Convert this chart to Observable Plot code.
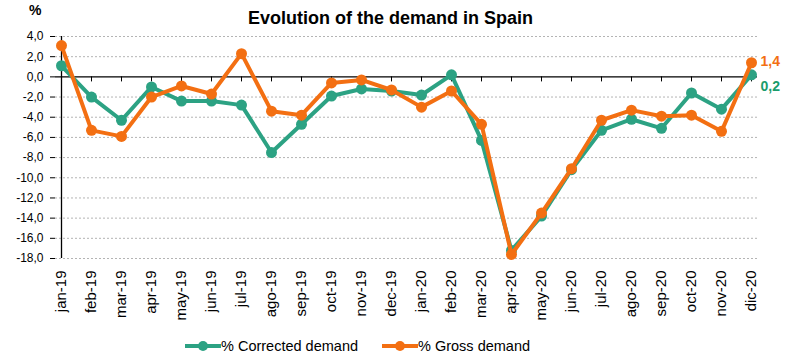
<!DOCTYPE html>
<html>
<head>
<meta charset="utf-8">
<script src="https://cdn.jsdelivr.net/npm/d3@7"></script>
<script src="https://cdn.jsdelivr.net/npm/@observablehq/plot@0.6"></script>
<style>
  html, body { margin: 0; padding: 0; background: #fff; }
  body { font-family: "Liberation Sans", Arial, sans-serif; }
  #wrap { position: relative; width: 791px; height: 360px; overflow: hidden; }
  #chart { position: absolute; left: 0; top: 0; }
  #title { position: absolute; left: 0; width: 781px; top: 8px; text-align: center; font-weight: bold; font-size: 18px; color: #000; }
  #unit { position: absolute; left: 29px; top: 2px; font-weight: bold; font-size: 14px; color: #000; }
  #legend { position: absolute; top: 338px; left: 185px; font-size: 14.5px; color: #000; display: flex; align-items: center; white-space: nowrap; }
  .item { display: flex; align-items: center; }
  .item svg { display: block; }
</style>
</head>
<body>
<div id="wrap">
  <div id="chart"></div>
  <div id="title">Evolution of the demand in Spain</div>
  <div id="unit">%</div>
  <div id="legend"></div>
</div>
<script>
const months = ["jan-19","feb-19","mar-19","apr-19","may-19","jun-19","jul-19","ago-19","sep-19","oct-19","nov-19","dec-19",
                "jan-20","feb-20","mar-20","apr-20","may-20","jun-20","jul-20","ago-20","sep-20","oct-20","nov-20","dic-20"];
const corrected = [1.1,-2.0,-4.3,-1.0,-2.4,-2.4,-2.8,-7.5,-4.7,-1.9,-1.2,-1.4,
                   -1.8,0.2,-6.3,-17.2,-13.8,-9.2,-5.3,-4.2,-5.1,-1.6,-3.2,0.2];
const gross = [3.1,-5.3,-5.9,-2.0,-0.9,-1.7,2.3,-3.4,-3.8,-0.6,-0.3,-1.3,
               -3.0,-1.4,-4.7,-17.6,-13.5,-9.1,-4.3,-3.3,-3.9,-3.8,-5.4,1.4];
const yTicks = [4,2,0,-2,-4,-6,-8,-10,-12,-14,-16,-18];
const seriesNames = ["% Corrected demand", "% Gross demand"];
const colors = ["#2ca283", "#f36f12"];
const labelColors = ["#1a9c6c", "#f36f12"];

const fmt = d => d.toFixed(1).replace(".", ",");
const corrData = months.map((m, i) => ({month: m, value: corrected[i]}));
const grossData = months.map((m, i) => ({month: m, value: gross[i]}));
const last = months.length - 1;

const chart = Plot.plot({
  width: 791,
  height: 330,
  marginTop: 36,
  marginBottom: 72,
  marginLeft: 55,
  marginRight: 34,
  style: {fontFamily: "'Liberation Sans', Arial, sans-serif", color: "#000", background: "transparent"},
  x: {type: "point", domain: months, padding: 0},
  y: {domain: [-18, 4]},
  marks: [
    Plot.ruleY(yTicks.filter(d => d !== 0), {stroke: "#b4b4b4", strokeWidth: 1, strokeDasharray: "2,2"}),
    Plot.ruleY([0], {stroke: "#000", strokeWidth: 1.3}),
    Plot.ruleX(months.slice(1), {x: d => d, y1: 0, y2: -0.5, stroke: "#000", strokeWidth: 1}),
    Plot.ruleX([months[0]], {y1: -18, y2: 4, stroke: "#000", strokeWidth: 1.3}),
    Plot.axisY({ticks: yTicks, tickFormat: fmt, tickSize: 5, tickPadding: 7, fontSize: 12, label: null}),
    Plot.axisX({tickRotate: -90, tickSize: 0, tickPadding: 12, fontSize: 15, label: null}),
    Plot.line(corrData, {x: "month", y: "value", stroke: colors[0], strokeWidth: 4}),
    Plot.dot(corrData, {x: "month", y: "value", r: 5.5, fill: colors[0], stroke: "none"}),
    Plot.line(grossData, {x: "month", y: "value", stroke: colors[1], strokeWidth: 4}),
    Plot.dot(grossData, {x: "month", y: "value", r: 5.5, fill: colors[1], stroke: "none"}),
    Plot.text([grossData[last]], {x: "month", y: "value", text: d => fmt(d.value), dx: 9, dy: -1, textAnchor: "start", fill: labelColors[1], fontWeight: "bold", fontSize: 14}),
    Plot.text([corrData[last]], {x: "month", y: "value", text: d => fmt(d.value), dx: 9, dy: 12, textAnchor: "start", fill: labelColors[0], fontWeight: "bold", fontSize: 14})
  ]
});
document.getElementById("chart").appendChild(chart);

const legend = document.getElementById("legend");
seriesNames.forEach((name, i) => {
  const item = document.createElement("div");
  item.className = "item";
  if (i > 0) item.style.marginLeft = "24px";
  item.innerHTML = `<svg width="36" height="12"><line x1="0" x2="36" y1="6" y2="6" stroke="${colors[i]}" stroke-width="4"/><circle cx="18" cy="6" r="5" fill="${colors[i]}"/></svg><span>${name}</span>`;
  legend.appendChild(item);
});
</script>
</body>
</html>
